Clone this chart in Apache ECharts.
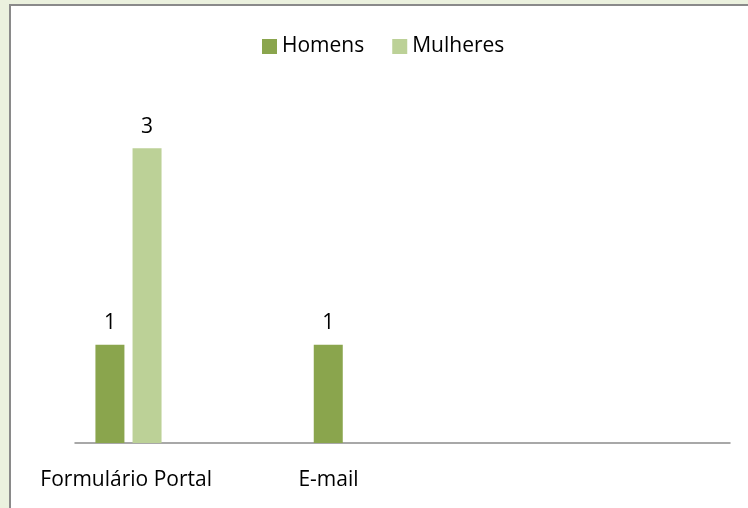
<!DOCTYPE html>
<html>
<head>
    <meta charset="UTF-8">
    <title>chart</title>
    <script src="https://cdn.jsdelivr.net/npm/echarts@6/dist/echarts.min.js"></script>
    <style>
        html, body { margin: 0; padding: 0; background: #ebf1de; }
        #panel { position: absolute; left: 9px; top: 4px; width: 760px; height: 520px;
                 background: #ffffff; border: 2px solid #8a8a8a; }
        #chart { position: absolute; left: 0; top: 0; width: 748px; height: 508px; }
    </style>
</head>
<body>
    <div id="panel"></div>
    <div id="chart"></div>
    <script>
        var categories = ['Formulário Portal', 'E-mail', ''];
        var homens = [1, 1, '-'];
        var mulheres = [3, '-', '-'];

        var chart = echarts.init(document.getElementById('chart'), null, {renderer: 'canvas'});
        var font = '"Open Sans", sans-serif';

        var labelStyle = {
            show: true, position: 'top', distance: 11,
            color: '#000', fontSize: 21, fontFamily: font,
            formatter: function (p) { return p.value; }
        };
        // empty series keep the bar slots as in the original
        function blank(name) {
            return {name: name, type: 'bar', barWidth: 29, barGap: '28%', data: ['-', '-', '-']};
        }

        chart.setOption({
            backgroundColor: 'transparent',
            animation: false,
            legend: {
                data: ['Homens', 'Mulheres'],
                left: 257, top: 31,
                itemWidth: 15, itemHeight: 15, itemGap: 28,
                icon: 'rect',
                textStyle: {fontSize: 21, fontFamily: font, color: '#000'}
            },
            grid: {left: 75, right: 18, top: 99, bottom: 65, containLabel: false},
            xAxis: {
                type: 'category',
                data: [
                    {value: categories[0], textStyle: {padding: [0, 116, 0, 0]}},
                    {value: categories[1], textStyle: {padding: [0, 148, 0, 0]}},
                    categories[2]
                ],
                axisLine: {lineStyle: {color: '#8c8c8c', width: 1.5}},
                axisTick: {show: false},
                axisLabel: {color: '#000', fontSize: 21, fontFamily: font, margin: 27, interval: 0}
            },
            yAxis: {
                type: 'value', min: 0, max: 3.5,
                show: false
            },
            series: [
                {name: 'Homens', type: 'bar', barWidth: 29, barGap: '28%', data: homens,
                 itemStyle: {color: '#8aa54d'}, label: labelStyle},
                {name: 'Mulheres', type: 'bar', barWidth: 29, barGap: '28%', data: mulheres,
                 itemStyle: {color: '#bcd197'}, label: labelStyle},
                blank('s3'), blank('s4'), blank('s5')
            ]
        });
    </script>
</body>
</html>
